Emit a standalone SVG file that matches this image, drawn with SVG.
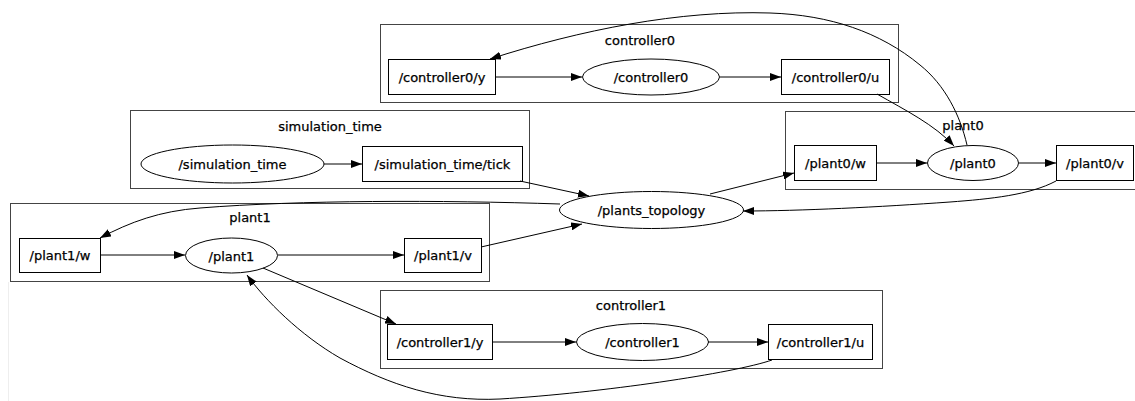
<svg xmlns="http://www.w3.org/2000/svg" width="1135" height="401" viewBox="0 0 1135 401">
<defs>
<marker id="ah" markerWidth="11" markerHeight="8" refX="11" refY="4" orient="auto" markerUnits="userSpaceOnUse">
<path d="M0,0 L11,4 L0,8 z" fill="#000"/>
</marker>
</defs>
<style>
text{font-family:"DejaVu Sans","Liberation Sans",sans-serif;font-size:13px;fill:#000;stroke:#000;stroke-width:0.25;text-anchor:middle}
.cl{fill:none;stroke:#444;stroke-width:1}
.nd{fill:#fff;stroke:#000;stroke-width:1}
.e{fill:none;stroke:#000;stroke-width:1;marker-end:url(#ah)}
</style>
<rect x="0" y="0" width="1135" height="401" fill="#fff"/>
<line x1="8.5" y1="282" x2="8.5" y2="401" stroke="#eee" stroke-width="1"/>
<g id="cluster_controller0">
<rect class="cl" x="380.5" y="24.5" width="518" height="78"/>
<text x="640" y="45">controller0</text>
</g>
<g id="cluster_simulation_time">
<rect class="cl" x="130.5" y="110.5" width="399" height="78"/>
<text x="330" y="131">simulation_time</text>
</g>
<g id="cluster_plant0">
<rect class="cl" x="785.5" y="111.5" width="360" height="78"/>
<text x="963" y="130">plant0</text>
</g>
<g id="cluster_plant1">
<rect class="cl" x="10.5" y="203.5" width="479" height="78"/>
<text x="250" y="222">plant1</text>
</g>
<g id="cluster_controller1">
<rect class="cl" x="380.5" y="290.5" width="502" height="78"/>
<text x="631" y="310">controller1</text>
</g>
<g id="n_controller0_y"><rect class="nd" x="388.5" y="59.5" width="107" height="35"/><text x="442" y="82">/controller0/y</text></g>
<g id="n_controller0"><ellipse class="nd" cx="651" cy="77" rx="68.5" ry="18"/><text x="651" y="82">/controller0</text></g>
<g id="n_controller0_u"><rect class="nd" x="781.5" y="59.5" width="108" height="35"/><text x="835.5" y="82">/controller0/u</text></g>
<g id="n_simulation_time"><ellipse class="nd" cx="232.5" cy="164" rx="91.5" ry="19"/><text x="232.5" y="169">/simulation_time</text></g>
<g id="n_simulation_time_tick"><rect class="nd" x="362.5" y="146.5" width="160" height="35"/><text x="442.5" y="169">/simulation_time/tick</text></g>
<g id="n_plant0_w"><rect class="nd" x="794.5" y="145.5" width="82" height="35"/><text x="835.5" y="168">/plant0/w</text></g>
<g id="n_plant0"><ellipse class="nd" cx="973" cy="163" rx="45.5" ry="17.5"/><text x="973" y="168">/plant0</text></g>
<g id="n_plant0_v"><rect class="nd" x="1056.5" y="145.5" width="77" height="35"/><text x="1095" y="168">/plant0/v</text></g>
<g id="n_plants_topology"><ellipse class="nd" cx="651.5" cy="210" rx="92" ry="18.5"/><text x="651.5" y="215">/plants_topology</text></g>
<g id="n_plant1_w"><rect class="nd" x="19.5" y="238.5" width="81" height="34"/><text x="60" y="260">/plant1/w</text></g>
<g id="n_plant1"><ellipse class="nd" cx="231.5" cy="255.5" rx="46" ry="17.5"/><text x="231.5" y="260.5">/plant1</text></g>
<g id="n_plant1_v"><rect class="nd" x="404.5" y="238.5" width="77" height="34"/><text x="443" y="260">/plant1/v</text></g>
<g id="n_controller1_y"><rect class="nd" x="387.5" y="324.5" width="105" height="35"/><text x="440" y="347">/controller1/y</text></g>
<g id="n_controller1"><ellipse class="nd" cx="642.5" cy="342" rx="66" ry="18.5"/><text x="642.5" y="347">/controller1</text></g>
<g id="n_controller1_u"><rect class="nd" x="768.5" y="324.5" width="104" height="35"/><text x="820.5" y="347">/controller1/u</text></g>
<g id="edges">
<path class="e" d="M496,77 L582,77"/>
<path class="e" d="M720,77 L781,77"/>
<path class="e" d="M877,94 C905,110 935,125 954,146"/>
<path class="e" d="M967,145 C960,115 945,85 920,65 C880,32 830,15 770,13 C680,10 580,30 490,59"/>
<path class="e" d="M877,163 L927,163"/>
<path class="e" d="M1019,163 L1056,163"/>
<path class="e" d="M324,164 L362,164"/>
<path class="e" d="M520,181 L589,196"/>
<path class="e" d="M710,194 L794,173"/>
<path class="e" d="M1056,181 C1030,195 990,199 950,202 C880,207 800,211 743,211"/>
<path class="e" d="M560,204 C440,200 300,200 200,208 C160,211 130,222 100,238"/>
<path class="e" d="M101,255 L185,255"/>
<path class="e" d="M278,255 L404,255"/>
<path class="e" d="M481,247 L582,224"/>
<path class="e" d="M263,268 L396,324"/>
<path class="e" d="M492,342 L576,342"/>
<path class="e" d="M708,342 L768,342"/>
<path class="e" d="M772,360 C735,373 600,393 500,399 C440,402 390,385 340,358 C300,335 265,300 247,275"/>
</g>
</svg>
